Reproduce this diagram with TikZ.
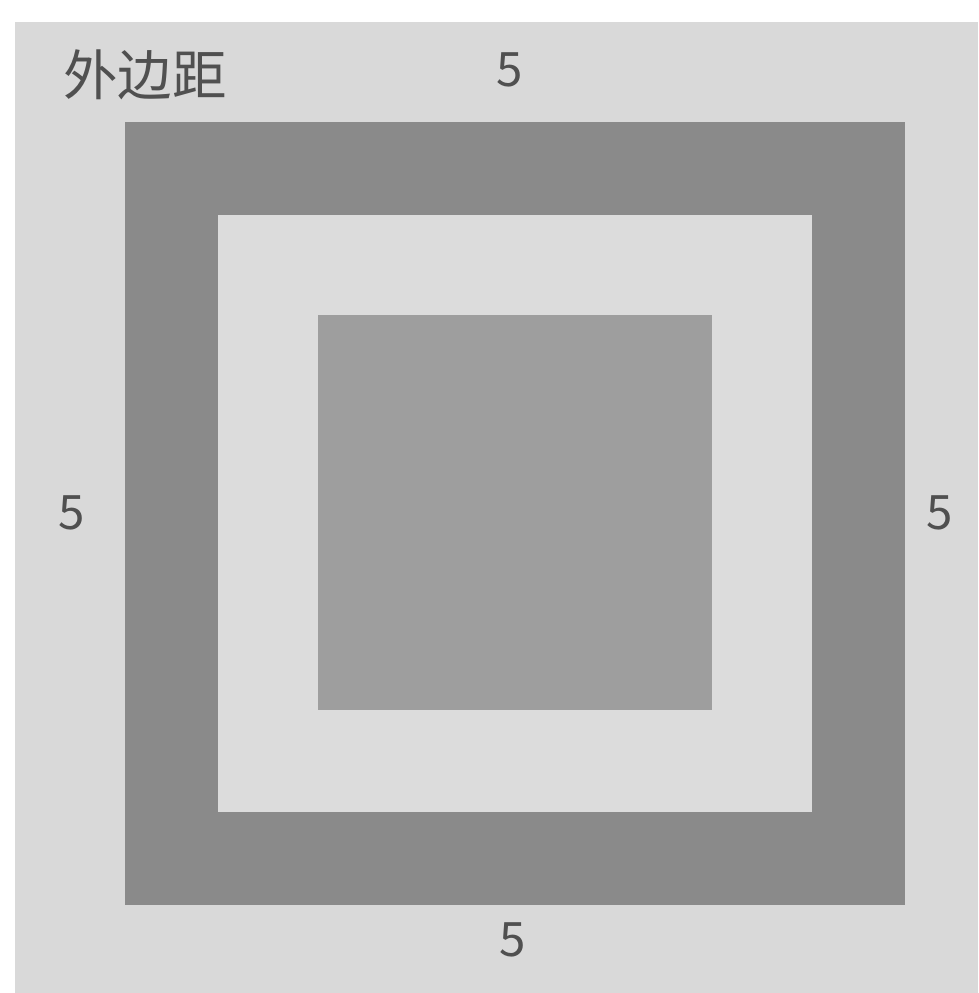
\documentclass[tikz,border=0pt]{standalone}
\usepackage{fontspec}
\newfontfamily\cjk{Noto Sans CJK SC}
\definecolor{pagegray}{HTML}{D9D9D9}
\definecolor{bordergray}{HTML}{8A8A8A}
\definecolor{padgray}{HTML}{DCDCDC}
\definecolor{contentgray}{HTML}{9E9E9E}
\definecolor{labelgray}{HTML}{505050}
\begin{document}
\begin{tikzpicture}[
  x=0.02cm, y=-0.02cm,
  num/.style={font=\cjk\fontsize{27}{30}\selectfont, text=labelgray, inner sep=0pt},
  title/.style={font=\cjk\fontsize{31}{34}\selectfont, text=labelgray, inner sep=0pt}
]
\useasboundingbox (0,0) rectangle (978,993);
\fill[white] (0,0) rectangle (978,993);

% margin, border, padding, content
\fill[pagegray]    (15,22)   rectangle (978,993);
\fill[bordergray]  (125,122) rectangle (905,905);
\fill[padgray]     (218,215) rectangle (812,812);
\fill[contentgray] (318,315) rectangle (712,710);

\node[title] (name) at (145,75) {外边距};

\node[num] (top)    at (510,70)  {5};
\node[num] (left)   at (72,513)  {5};
\node[num] (right)  at (940,513) {5};
\node[num] (bottom) at (513,940) {5};
\end{tikzpicture}
\end{document}
